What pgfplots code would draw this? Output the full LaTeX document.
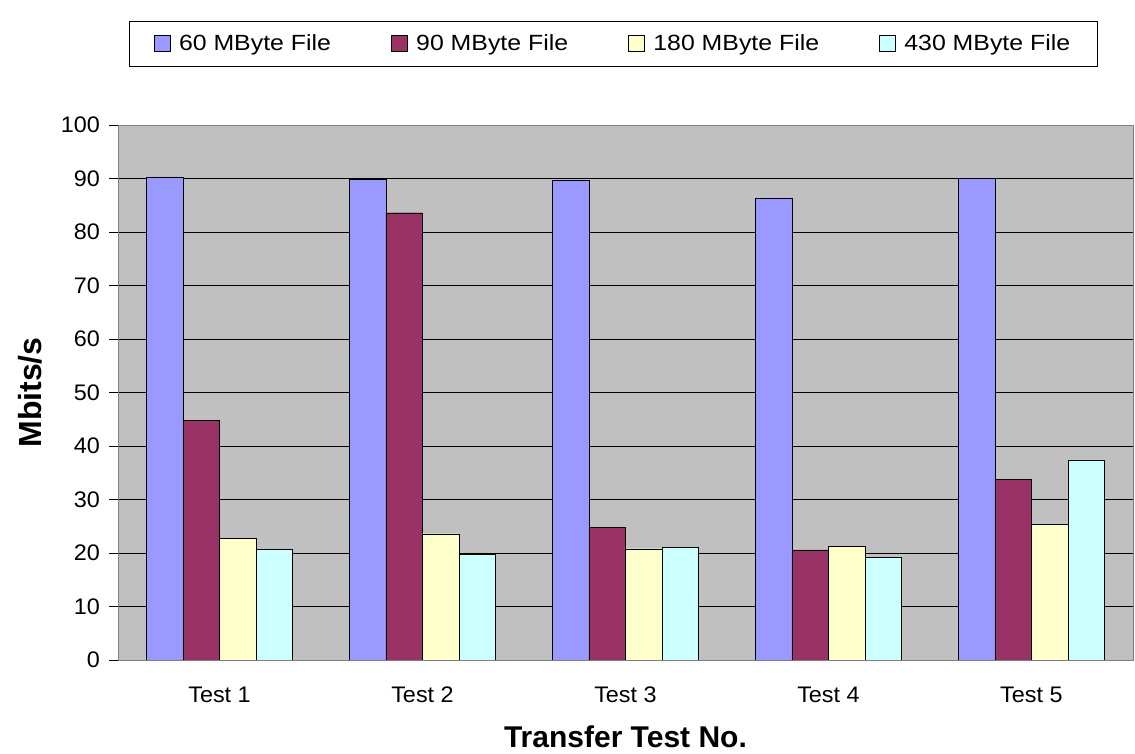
\documentclass[border=0pt]{standalone}
\usepackage{fontspec}
\setmainfont{Liberation Sans}
\newfontfamily\legfont[FakeStretch=1.13]{Liberation Sans}
\newfontfamily\tickfont[FakeStretch=1.04]{Liberation Sans}
\usepackage{pgfplots}
\pgfplotsset{compat=1.18}
\definecolor{cA}{HTML}{9999FF}
\definecolor{cB}{HTML}{993366}
\definecolor{cC}{HTML}{FFFFCC}
\definecolor{cD}{HTML}{CCFFFF}
\definecolor{bg}{HTML}{C0C0C0}
\definecolor{fr}{HTML}{808080}
\begin{document}
\begin{tikzpicture}[x=1pt,y=1pt]
\useasboundingbox (0,0) rectangle (1135,754);
\begin{axis}[
  at={(118pt,94pt)}, anchor=south west,
  scale only axis, width=1015pt, height=535pt,
  ybar=0pt, bar width=0.18,
  xmin=-0.5, xmax=4.5, ymin=0, ymax=100,
  xtick={0,1,2,3,4},
  xticklabels={Test 1,Test 2,Test 3,Test 4,Test 5},
  extra x ticks={-0.5,0.5,1.5,2.5,3.5,4.5},
  extra x tick labels={},
  extra x tick style={major tick style={draw=black,thin}, major tick length=8.5pt, tick align=outside},
  major x tick style={draw=none},
  ytick={0,10,...,100},
  ymajorgrids, major grid style={black, line width=0.6pt},
  y tick style={draw=black, thin}, major tick length=8.5pt, tick align=outside,
  tick pos=left,
  axis background/.style={fill=bg},
  axis line style={draw=fr, line width=0.8pt},
  /pgf/number format/assume math mode=true,
  tick label style={font=\tickfont\fontsize{22.5}{26}\selectfont},
  xticklabel style={yshift=-15pt},
  yticklabel style={xshift=-6pt},
  xlabel={Transfer Test No.}, ylabel={Mbits/s},
  xlabel style={font=\bfseries\fontsize{30}{34}\selectfont, at={(axis description cs:0.5,-0.1439)}, anchor=center},
  ylabel style={font=\bfseries\fontsize{32}{36}\selectfont, at={(axis description cs:-0.0867,0.5)}, anchor=center},
  legend columns=4,
  legend style={at={(axis description cs:0.4877,1.1523)}, anchor=center,
    draw=black, thin, font=\legfont\fontsize{22}{26}\selectfont,
    inner xsep=25pt, inner ysep=11.5pt,
    /tikz/every even column/.append style={column sep=58pt}},
  legend image code/.code={\draw[#1, draw=black, thin] (0pt,-8pt) rectangle (16pt,8pt); \path[draw=none,fill=none] (0pt,0pt) -- (23pt,0pt);},
  every axis plot/.append style={draw=black, thin},
]
\addplot[fill=cA] coordinates {(0,90.3) (1,89.9) (2,89.6) (3,86.4) (4,90.0)};
\addplot[fill=cB] coordinates {(0,44.8) (1,83.6) (2,24.8) (3,20.6) (4,33.8)};
\addplot[fill=cC] coordinates {(0,22.7) (1,23.6) (2,20.8) (3,21.2) (4,25.4)};
\addplot[fill=cD] coordinates {(0,20.7) (1,19.8) (2,21.0) (3,19.2) (4,37.4)};
\legend{60 MByte File,90 MByte File,180 MByte File,430 MByte File}
\end{axis}
\end{tikzpicture}
\end{document}
